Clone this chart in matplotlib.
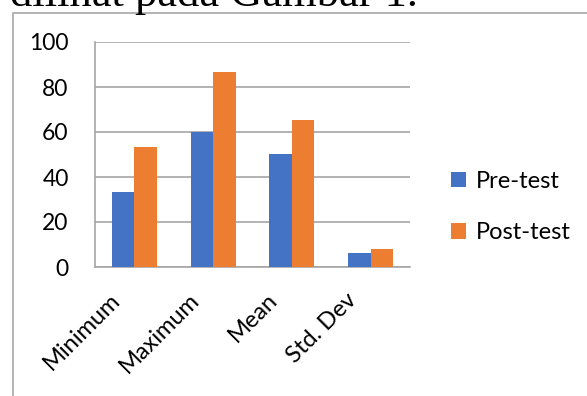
import numpy as np
import matplotlib.pyplot as plt
from matplotlib.lines import Line2D
from matplotlib.transforms import ScaledTranslation

plt.rcParams['font.family'] = ['Lato', 'DejaVu Sans']

categories = ['Minimum', 'Maximum', 'Mean', 'Std. Dev']
pre_test = [33.3, 60.0, 50.2, 6.1]
post_test = [53.2, 86.7, 65.3, 8.1]
series_names = ['Pre-test', 'Post-test']
yticks = [0, 20, 40, 60, 80, 100]

W, H = 587, 396
fig = plt.figure(figsize=(W / 100, H / 100), dpi=100)

# caption line from the page above the chart, mostly cut off
fig.text(10 / W, 1 - 6 / H, 'dilihat pada Gambar 1.', family='Liberation Serif',
         fontsize=32, va='baseline', ha='left', color='black')

# chart frame (left and top edges)
frame = Line2D([12.5 / W, 12.5 / W, 1.0], [0.0, 1 - 12.5 / H, 1 - 12.5 / H],
               transform=fig.transFigure, color='#b3b3b3', lw=1.4)
fig.add_artist(frame)

ax = fig.add_axes([95 / W, (H - 267) / H, (410 - 95) / W, (267 - 42) / H])

x = np.arange(len(categories))
w = 0.286
ax.bar(x - w / 2, pre_test, w, color='#4472C4', label=series_names[0], zorder=3)
ax.bar(x + w / 2, post_test, w, color='#ED7D31', label=series_names[1], zorder=3)

ax.set_xlim(-0.5, len(categories) - 0.5)
ax.set_ylim(0, 100)
ax.set_yticks(yticks)
ax.set_yticklabels([str(t) for t in yticks], fontsize=16.5)
ax.set_xticks(x)
ax.set_xticklabels(categories, fontsize=17, rotation=45, ha='right',
                   rotation_mode='anchor')
ax.tick_params(axis='both', length=0)
ax.tick_params(axis='y', pad=19)
ax.tick_params(axis='x', pad=16)
# rotated labels sit a little left of their category
shift = ScaledTranslation(-25 / 100, 0, fig.dpi_scale_trans)
for lab in ax.get_xticklabels():
    lab.set_transform(lab.get_transform() + shift)

ax.grid(axis='y', color='#a6a6a6', lw=1.2, zorder=0)
for side in ['top', 'right']:
    ax.spines[side].set_visible(False)
ax.spines['left'].set_color('#a6a6a6')
ax.spines['bottom'].set_color('#a6a6a6')
ax.spines['left'].set_linewidth(1.2)
ax.spines['bottom'].set_linewidth(1.2)

ax.legend(loc='center left', bbox_to_anchor=(451 / W, 1 - 207 / H),
          bbox_transform=fig.transFigure, frameon=False, fontsize=17,
          handlelength=0.62, handleheight=0.62, handletextpad=0.45,
          labelspacing=1.3, borderpad=0, borderaxespad=0)

fig.savefig('out.png', dpi=100)
